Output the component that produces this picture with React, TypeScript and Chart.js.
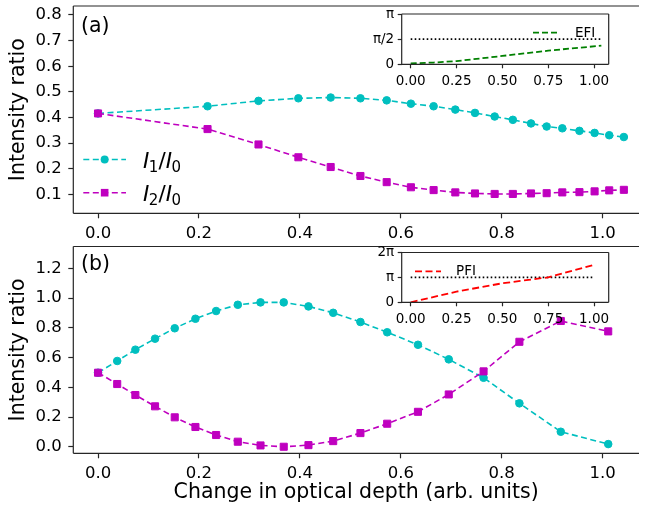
import React, { useEffect, useRef } from "react";
import { Chart, registerables } from "chart.js";
Chart.register(...registerables);

// ---------- data ----------
const xTicksMain = [0, 0.2, 0.4, 0.6, 0.8, 1.0];
const xTickLabelsMain = ["0.0", "0.2", "0.4", "0.6", "0.8", "1.0"];
const yTicksA = [0.1, 0.2, 0.3, 0.4, 0.5, 0.6, 0.7, 0.8];
const yTickLabelsA = ["0.1", "0.2", "0.3", "0.4", "0.5", "0.6", "0.7", "0.8"];
const yTicksB = [0, 0.2, 0.4, 0.6, 0.8, 1.0, 1.2];
const yTickLabelsB = ["0.0", "0.2", "0.4", "0.6", "0.8", "1.0", "1.2"];

const xA = [0, 0.217, 0.318, 0.397, 0.461, 0.52, 0.572, 0.62, 0.665, 0.708, 0.747, 0.786, 0.822, 0.858, 0.889, 0.92, 0.954, 0.984, 1.013, 1.042];
const i1A = [0.416, 0.444, 0.465, 0.475, 0.478, 0.475, 0.467, 0.454, 0.444, 0.431, 0.418, 0.404, 0.391, 0.377, 0.365, 0.358, 0.348, 0.34, 0.331, 0.324];
const i2A = [0.416, 0.355, 0.295, 0.245, 0.207, 0.172, 0.148, 0.128, 0.117, 0.108, 0.104, 0.102, 0.102, 0.104, 0.105, 0.108, 0.109, 0.112, 0.116, 0.118];

const xB = [0, 0.038, 0.074, 0.113, 0.152, 0.193, 0.234, 0.277, 0.322, 0.368, 0.417, 0.466, 0.52, 0.573, 0.634, 0.695, 0.764, 0.835, 0.917, 1.011];
const i1B = [0.498, 0.577, 0.653, 0.727, 0.797, 0.861, 0.913, 0.955, 0.971, 0.971, 0.944, 0.901, 0.839, 0.77, 0.686, 0.588, 0.464, 0.292, 0.101, 0.018];
const i2B = [0.498, 0.422, 0.348, 0.272, 0.198, 0.133, 0.079, 0.034, 0.009, 0.0, 0.011, 0.038, 0.092, 0.155, 0.235, 0.352, 0.507, 0.706, 0.846, 0.776];

const insetXTicks = [0, 0.25, 0.5, 0.75, 1.0];
const insetXTickLabels = ["0.00", "0.25", "0.50", "0.75", "1.00"];
const insetAYTicks = [0, Math.PI / 2, Math.PI];
const insetAYTickLabels = ["0", "π/2", "π"];
const insetBYTicks = [0, Math.PI, 2 * Math.PI];
const insetBYTickLabels = ["0", "π", "2π"];

const efiX = [0, 0.125, 0.25, 0.375, 0.5, 0.625, 0.75, 0.875, 1.04];
const efiY = [0.06, 0.11, 0.2, 0.36, 0.52, 0.69, 0.85, 0.99, 1.16];
const refAX = [0, 1.035];
const refAY = [Math.PI / 2, Math.PI / 2];

const pfiX = [0, 0.25, 0.5, 0.75, 1.0];
const pfiY = [0, 1.35, 2.4, 3.15, 4.72];
const refBX = [0, 1.0];
const refBY = [Math.PI, Math.PI];

// ---------- styles ----------
const FONT = "'DejaVu Sans', sans-serif";
const CYAN = "#00bfbf";
const MAGENTA = "#bf00bf";
const GREEN = "#008000";
const RED = "#ff0000";
const SPINE = "#262626";

type Box = {
  left: number; top: number; width: number; height: number;
  aL: number; aT: number; aR: number; aB: number;
};

const boxA: Box = { left: 0, top: 0, width: 645, height: 240, aL: 73.3, aT: 4.3, aR: 645, aB: 213.3 };
const boxB: Box = { left: 0, top: 240, width: 645, height: 271, aL: 73.3, aT: 246.5, aR: 645, aB: 453.3 };
const boxIA: Box = { left: 350, top: 0, width: 270, height: 95, aL: 401.7, aT: 14, aR: 608.7, aB: 64.3 };
const boxIB: Box = { left: 350, top: 240, width: 270, height: 90, aL: 401.7, aT: 252.5, aR: 608.7, aB: 302.3 };

function pts(xs: number[], ys: number[]) {
  return xs.map((x, i) => ({ x, y: ys[i] }));
}

function axis(o: {
  isX: boolean; min: number; max: number; ticks: number[]; labels: string[];
  fontSize: number; tickLength: number; padding: number; size: number; title?: string;
}) {
  return {
    type: "linear",
    position: o.isX ? "bottom" : "left",
    min: o.min,
    max: o.max,
    border: { display: false },
    grid: {
      display: true, drawOnChartArea: false, drawTicks: true,
      tickLength: o.tickLength, tickWidth: 1.2, tickColor: SPINE, color: SPINE,
    },
    ticks: {
      autoSkip: false, maxRotation: 0, minRotation: 0, padding: o.padding,
      color: "#000", font: { family: FONT, size: o.fontSize },
      callback: (_v: any, i: number) => o.labels[i],
    },
    afterBuildTicks: (s: any) => {
      s.ticks = o.ticks.map((v) => ({ value: v }));
    },
    afterFit: (s: any) => {
      if (o.isX) {
        s.height = o.size; s.paddingLeft = 0; s.paddingRight = 0;
      } else {
        s.width = o.size; s.paddingTop = 0; s.paddingBottom = 0;
      }
    },
    title: o.title
      ? { display: true, text: o.title, color: "#000", font: { family: FONT, size: 20.5 }, padding: { top: 6, bottom: 6 } }
      : { display: false },
  };
}

function overlay(box: Box, sides: string, white: boolean, draw: (ctx: CanvasRenderingContext2D) => void) {
  return {
    id: "overlay",
    beforeDraw(chart: any) {
      if (!white) return;
      const { ctx, chartArea: a } = chart;
      ctx.save();
      ctx.fillStyle = "#fff";
      ctx.fillRect(a.left, a.top, a.right - a.left, a.bottom - a.top);
      ctx.restore();
    },
    afterDatasetsDraw(chart: any) {
      const { ctx, chartArea: a } = chart;
      ctx.save();
      ctx.strokeStyle = SPINE;
      ctx.lineWidth = 1.2;
      ctx.beginPath();
      if (sides.includes("l")) { ctx.moveTo(a.left, a.top); ctx.lineTo(a.left, a.bottom); }
      if (sides.includes("t")) { ctx.moveTo(a.left, a.top); ctx.lineTo(a.right, a.top); }
      if (sides.includes("b")) { ctx.moveTo(a.left, a.bottom); ctx.lineTo(a.right, a.bottom); }
      if (sides.includes("r")) { ctx.moveTo(a.right, a.top); ctx.lineTo(a.right, a.bottom); }
      ctx.stroke();
      ctx.restore();
    },
    afterDraw(chart: any) {
      const ctx = chart.ctx as CanvasRenderingContext2D;
      ctx.save();
      ctx.translate(-box.left, -box.top);
      draw(ctx);
      ctx.restore();
    },
  };
}

function mainDataset(data: any[], color: string, shape: string, radius: number, order: number) {
  return {
    data, borderColor: color, backgroundColor: color, borderWidth: 1.6, borderDash: [6, 3.5],
    pointStyle: shape, pointRadius: radius, pointBorderWidth: 1, pointBackgroundColor: color,
    pointBorderColor: color, tension: 0, fill: false, order,
  };
}

function lineDataset(data: any[], color: string, dash: number[], width: number, order: number) {
  return {
    data, borderColor: color, backgroundColor: color, borderWidth: width, borderDash: dash,
    pointRadius: 0, tension: 0, fill: false, order,
  };
}

function layoutPadding(b: Box) {
  return { left: 0, top: b.aT - b.top, right: b.left + b.width - b.aR, bottom: 0 };
}

function drawText(ctx: CanvasRenderingContext2D, text: string, x: number, y: number, size: number) {
  ctx.font = `${size}px ${FONT}`;
  ctx.fillStyle = "#000";
  ctx.textAlign = "left";
  ctx.textBaseline = "middle";
  ctx.fillText(text, x, y);
}

function drawRatio(ctx: CanvasRenderingContext2D, x: number, base: number, sub: string) {
  ctx.fillStyle = "#000";
  ctx.textAlign = "left";
  ctx.textBaseline = "alphabetic";
  const big = `italic 21.5px ${FONT}`;
  const small = `15px ${FONT}`;
  const norm = `21.5px ${FONT}`;
  ctx.font = big; ctx.fillText("I", x, base); x += ctx.measureText("I").width - 0.5;
  ctx.font = small; ctx.fillText(sub, x, base + 3.5); x += ctx.measureText(sub).width;
  ctx.font = norm; ctx.fillText("/", x, base); x += ctx.measureText("/").width;
  ctx.font = big; ctx.fillText("I", x, base); x += ctx.measureText("I").width - 0.5;
  ctx.font = small; ctx.fillText("0", x, base + 3.5);
}

function legendSample(ctx: CanvasRenderingContext2D, x1: number, x2: number, y: number, color: string, dash: number[], width: number, marker?: string) {
  ctx.save();
  ctx.strokeStyle = color;
  ctx.lineWidth = width;
  ctx.setLineDash(dash);
  ctx.beginPath();
  ctx.moveTo(x1, y);
  ctx.lineTo(x2, y);
  ctx.stroke();
  ctx.setLineDash([]);
  ctx.fillStyle = color;
  const cx = (x1 + x2) / 2;
  if (marker === "circle") {
    ctx.beginPath(); ctx.arc(cx, y, 4, 0, Math.PI * 2); ctx.fill();
  } else if (marker === "rect") {
    ctx.fillRect(cx - 3.8, y - 3.8, 7.6, 7.6);
  }
  ctx.restore();
}

function baseOptions(b: Box, xScale: any, yScale: any) {
  return {
    responsive: false,
    animation: false,
    events: [],
    layout: { padding: layoutPadding(b) },
    plugins: { legend: { display: false }, tooltip: { enabled: false } },
    scales: { x: xScale, y: yScale },
  };
}

export default function App() {
  const rA = useRef<HTMLCanvasElement>(null);
  const rB = useRef<HTMLCanvasElement>(null);
  const rIA = useRef<HTMLCanvasElement>(null);
  const rIB = useRef<HTMLCanvasElement>(null);

  useEffect(() => {
    document.body.style.margin = "0";
    const charts: Chart[] = [];
    const INSET_FONT = 13.5;

    charts.push(new Chart(rA.current!, {
      type: "line",
      data: {
        datasets: [
          mainDataset(pts(xA, i1A), CYAN, "circle", 3.8, 1),
          mainDataset(pts(xA, i2A), MAGENTA, "rect", 5, 0),
        ],
      },
      options: baseOptions(
        boxA,
        axis({ isX: true, min: -0.049, max: 1.072, ticks: xTicksMain, labels: xTickLabelsMain, fontSize: 16.5, tickLength: 5, padding: 5.5, size: boxA.top + boxA.height - boxA.aB }),
        axis({ isX: false, min: 0.0265, max: 0.835, ticks: yTicksA, labels: yTickLabelsA, fontSize: 16.5, tickLength: 5, padding: 6.5, size: boxA.aL - boxA.left, title: "Intensity ratio" }),
      ) as any,
      plugins: [overlay(boxA, "ltb", false, (ctx) => {
        drawText(ctx, "(a)", 81, 27, 20.5);
        legendSample(ctx, 83.3, 126, 159.5, CYAN, [6, 3.5], 1.6, "circle");
        legendSample(ctx, 83.3, 126, 192.7, MAGENTA, [6, 3.5], 1.6, "rect");
        drawRatio(ctx, 143, 168, "1");
        drawRatio(ctx, 143, 201, "2");
      })],
    } as any));

    charts.push(new Chart(rB.current!, {
      type: "line",
      data: {
        datasets: [
          mainDataset(pts(xB, i1B), CYAN, "circle", 3.8, 1),
          mainDataset(pts(xB, i2B), MAGENTA, "rect", 5, 0),
        ],
      },
      options: baseOptions(
        boxB,
        axis({ isX: true, min: -0.049, max: 1.072, ticks: xTicksMain, labels: xTickLabelsMain, fontSize: 16.5, tickLength: 5, padding: 5.5, size: boxB.top + boxB.height - boxB.aB, title: "Change in optical depth (arb. units)" }),
        axis({ isX: false, min: -0.044, max: 1.347, ticks: yTicksB, labels: yTickLabelsB, fontSize: 16.5, tickLength: 5, padding: 6.5, size: boxB.aL - boxB.left, title: "Intensity ratio" }),
      ) as any,
      plugins: [overlay(boxB, "ltb", false, (ctx) => {
        drawText(ctx, "(b)", 81, 264.5, 20.5);
      })],
    } as any));

    charts.push(new Chart(rIA.current!, {
      type: "line",
      data: {
        datasets: [
          lineDataset(pts(refAX, refAY), "#000", [1.6, 2.4], 1.6, 1),
          lineDataset(pts(efiX, efiY), GREEN, [6, 3], 1.8, 0),
        ],
      },
      options: baseOptions(
        boxIA,
        axis({ isX: true, min: -0.049, max: 1.08, ticks: insetXTicks, labels: insetXTickLabels, fontSize: INSET_FONT, tickLength: 4, padding: 5, size: boxIA.top + boxIA.height - boxIA.aB }),
        axis({ isX: false, min: 0, max: Math.PI, ticks: insetAYTicks, labels: insetAYTickLabels, fontSize: INSET_FONT, tickLength: 4, padding: 3.5, size: boxIA.aL - boxIA.left }),
      ) as any,
      plugins: [overlay(boxIA, "ltbr", true, (ctx) => {
        legendSample(ctx, 533, 560, 32.7, GREEN, [6, 3], 1.8);
        drawText(ctx, "EFI", 575, 33, 13.5);
      })],
    } as any));

    charts.push(new Chart(rIB.current!, {
      type: "line",
      data: {
        datasets: [
          lineDataset(pts(refBX, refBY), "#000", [1.6, 2.4], 1.6, 1),
          lineDataset(pts(pfiX, pfiY), RED, [7, 3.5], 1.8, 0),
        ],
      },
      options: baseOptions(
        boxIB,
        axis({ isX: true, min: -0.049, max: 1.08, ticks: insetXTicks, labels: insetXTickLabels, fontSize: INSET_FONT, tickLength: 4, padding: 5, size: boxIB.top + boxIB.height - boxIB.aB }),
        axis({ isX: false, min: 0, max: 2 * Math.PI, ticks: insetBYTicks, labels: insetBYTickLabels, fontSize: INSET_FONT, tickLength: 4, padding: 3.5, size: boxIB.aL - boxIB.left }),
      ) as any,
      plugins: [overlay(boxIB, "ltbr", true, (ctx) => {
        legendSample(ctx, 415, 441, 271.3, RED, [7, 3.5], 1.8);
        drawText(ctx, "PFI", 456, 271, 13.5);
      })],
    } as any));

    return () => charts.forEach((c) => c.destroy());
  }, []);

  const cs = (b: Box): React.CSSProperties => ({ position: "absolute", left: b.left, top: b.top, width: b.width, height: b.height });

  return (
    <div style={{ position: "relative", width: 645, height: 511, overflow: "hidden", background: "#fff" }}>
      <canvas ref={rA} width={boxA.width} height={boxA.height} style={cs(boxA)} />
      <canvas ref={rB} width={boxB.width} height={boxB.height} style={cs(boxB)} />
      <canvas ref={rIA} width={boxIA.width} height={boxIA.height} style={cs(boxIA)} />
      <canvas ref={rIB} width={boxIB.width} height={boxIB.height} style={cs(boxIB)} />
    </div>
  );
}
